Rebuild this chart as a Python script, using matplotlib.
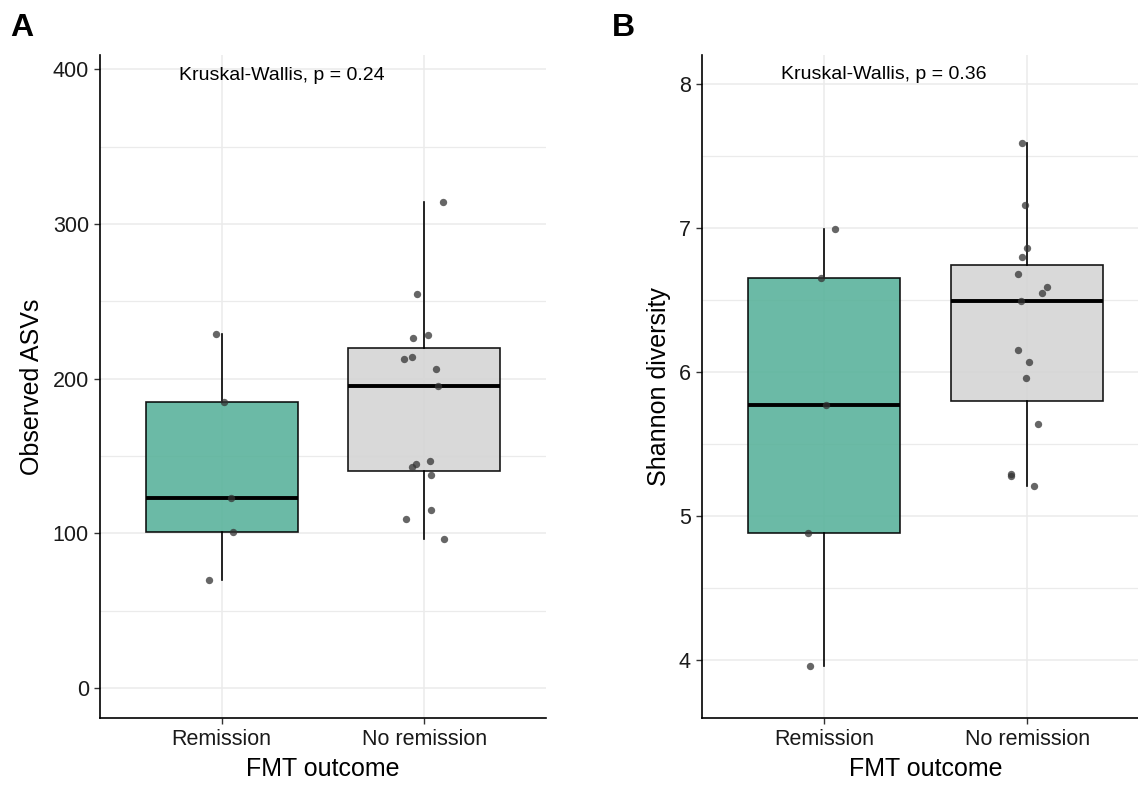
import matplotlib
matplotlib.use("Agg")
import matplotlib.pyplot as plt
from matplotlib.ticker import MultipleLocator

plt.rcParams['font.family'] = ['Liberation Sans', 'DejaVu Sans']

# data
groups = ['Remission', 'No remission']
remission_asv = [229, 185, 123, 101, 70]
no_remission_asv = [314, 255, 226, 228, 213, 214, 206, 195, 145, 143, 147, 138, 115, 109, 96]
remission_shannon = [6.99, 6.65, 5.77, 4.88, 3.96]
no_remission_shannon = [7.59, 7.16, 6.86, 6.80, 6.68, 6.59, 6.55, 6.49, 6.15, 6.07, 5.96, 5.64, 5.29, 5.28, 5.21]

# horizontal jitter of the points as seen in the picture
jit_rem_asv = [-0.03, 0.01, 0.046, 0.057, -0.061]
jit_norem_asv = [0.091, -0.038, -0.057, 0.017, -0.099, -0.062, 0.056, 0.069, -0.043, -0.062, 0.03, 0.033, 0.035, -0.09, 0.096]
jit_rem_sh = [0.057, -0.016, 0.01, -0.079, -0.067]
jit_norem_sh = [-0.023, -0.008, 0.0, -0.026, -0.044, 0.099, 0.072, -0.031, -0.043, 0.01, -0.005, 0.056, -0.08, -0.08, 0.036]

pvals = ['0.24', '0.36']
box_colors = ['#5BB39C', '#D5D5D5']


def panel(ax, data, jitters, ylim, major, ylabel, pval, label_y):
    bp = ax.boxplot(data, positions=[1, 2], widths=0.75, patch_artist=True,
                    showcaps=False, showfliers=False, whis=1.5,
                    boxprops=dict(linewidth=1.2, edgecolor='black'),
                    whiskerprops=dict(linewidth=1.2, color='black'),
                    medianprops=dict(linewidth=2.8, color='black'),
                    zorder=2)
    for patch, c in zip(bp['boxes'], box_colors):
        patch.set_facecolor(c)
        patch.set_alpha(0.9)
        patch.set_edgecolor('black')

    for i, (vals, jit) in enumerate(zip(data, jitters)):
        xs = [i + 1 + j for j in jit]
        ax.scatter(xs, vals, s=28, color='#333333', alpha=0.75, linewidths=0, zorder=3)

    ax.set_xlim(0.4, 2.6)
    ax.set_ylim(*ylim)
    ax.yaxis.set_major_locator(MultipleLocator(major))
    ax.yaxis.set_minor_locator(MultipleLocator(major / 2))
    ax.set_xticks([1, 2])
    ax.set_xticklabels(groups)
    ax.grid(True, which='major', color='#EBEBEB', linewidth=1.1, zorder=0)
    ax.grid(True, which='minor', axis='y', color='#EBEBEB', linewidth=0.9, zorder=0)
    ax.set_axisbelow(True)

    ax.text(0.79, label_y, 'Kruskal-Wallis, p = ' + pval, fontsize=14,
            ha='left', va='center', color='black')

    for s in ['top', 'right']:
        ax.spines[s].set_visible(False)
    for s in ['left', 'bottom']:
        ax.spines[s].set_linewidth(1.2)
    ax.tick_params(axis='both', which='major', labelsize=15.5, length=4, width=1.0,
                   colors='#333333', labelcolor='#1A1A1A', pad=4)
    ax.tick_params(axis='y', which='minor', length=0)
    ax.set_xlabel('FMT outcome', fontsize=18, labelpad=5)
    ax.set_ylabel(ylabel, fontsize=18, labelpad=6)


fig = plt.figure(figsize=(11.38, 7.85), dpi=100)
axA = fig.add_axes([100 / 1138, 1 - 718 / 785, 446 / 1138, 663 / 785])
axB = fig.add_axes([702 / 1138, 1 - 718 / 785, 447 / 1138, 663 / 785])

panel(axA, [remission_asv, no_remission_asv], [jit_rem_asv, jit_norem_asv],
      (-19.4, 409.2), 100, 'Observed ASVs', pvals[0], 395.7)
panel(axB, [remission_shannon, no_remission_shannon], [jit_rem_sh, jit_norem_sh],
      (3.597, 8.201), 1, 'Shannon diversity', pvals[1], 8.0625)

fig.text(10 / 1138, 1 - 28 / 785, 'A', fontsize=23, fontweight='bold', va='center', ha='left')
fig.text(612 / 1138, 1 - 28 / 785, 'B', fontsize=23, fontweight='bold', va='center', ha='left')

fig.savefig('out.png', dpi=100)
